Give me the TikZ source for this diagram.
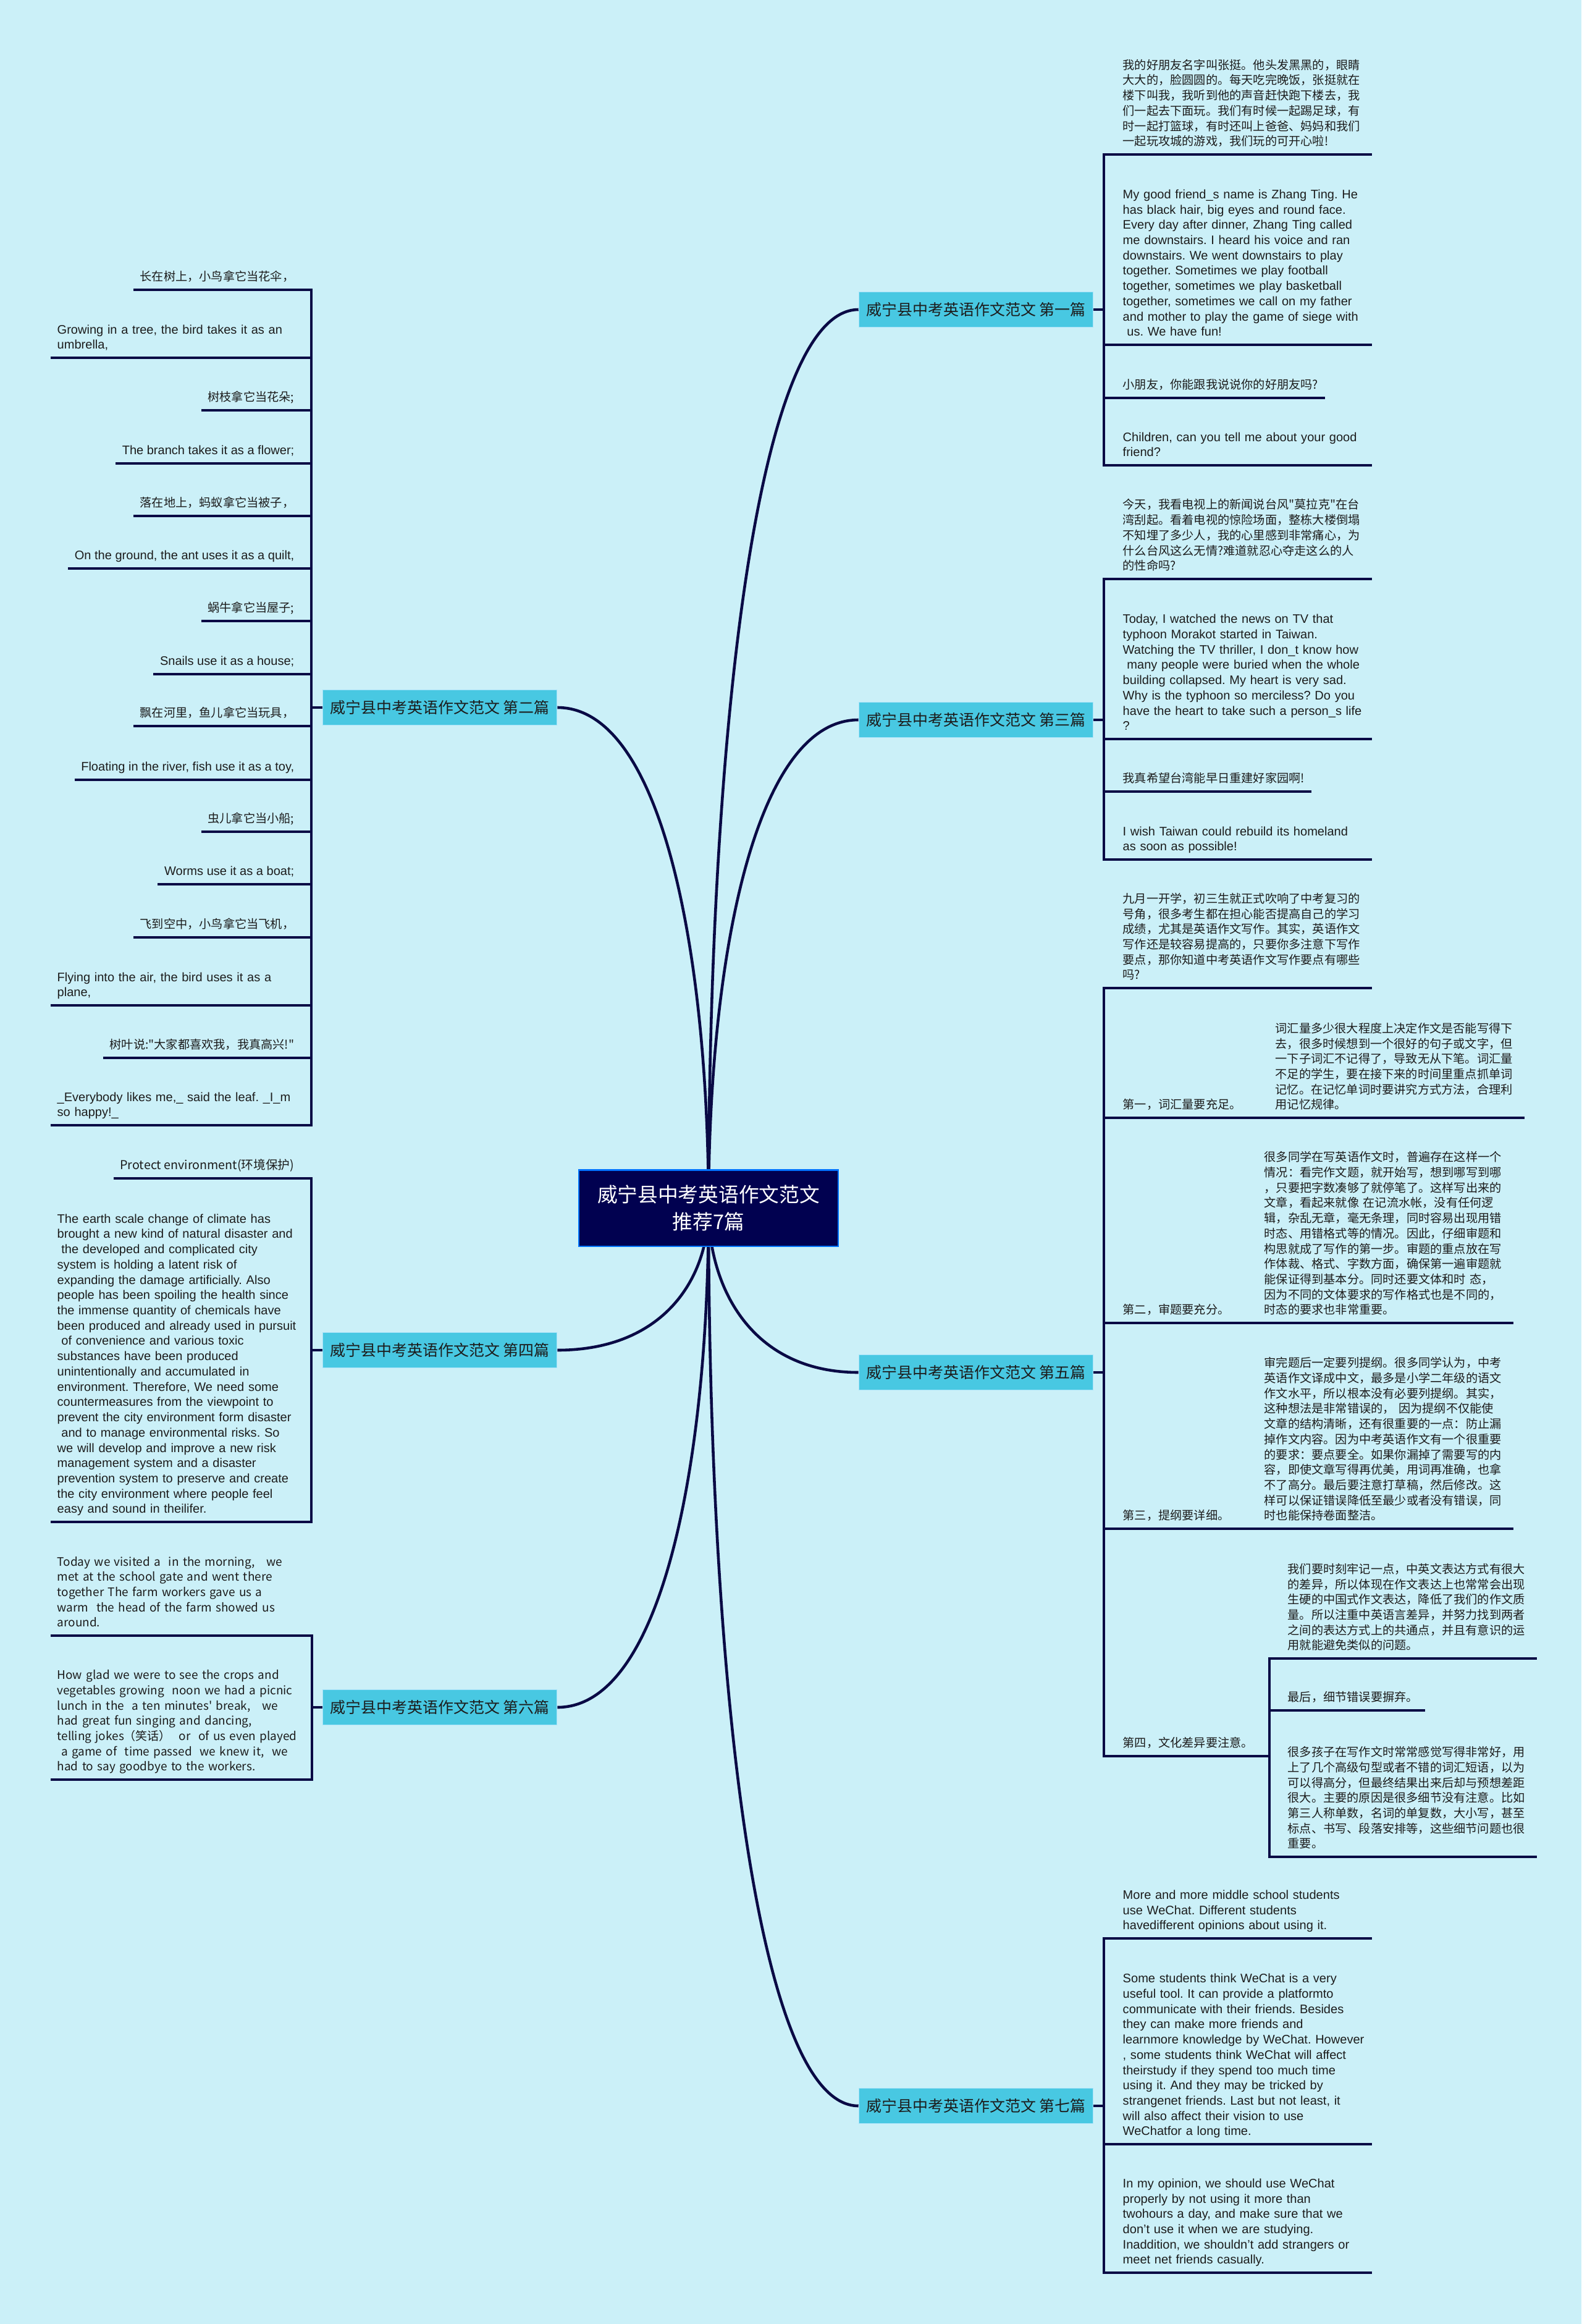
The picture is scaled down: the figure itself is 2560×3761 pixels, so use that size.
\documentclass[tikz,border=0pt]{standalone}
\usepackage{fontspec}
\setmainfont{Liberation Sans}
\newfontfamily\cjk{Noto Sans CJK SC}
\usetikzlibrary{calc}
\frenchspacing
\hyphenpenalty=10000
\definecolor{paper}{HTML}{CBF0F8}
\definecolor{navy}{HTML}{010150}
\definecolor{wire}{HTML}{0A0A45}
\definecolor{ink}{HTML}{1C1C1C}
\definecolor{sky}{HTML}{48C8E2}

\begin{document}
\begin{tikzpicture}[x=0.01cm, y=-0.01cm,
    root/.style={rectangle, draw=blue!55!cyan, line width=0.6pt, fill=navy, text=white, minimum width=4.19cm, minimum height=1.23cm, align=center, font=\cjk\fontsize{9.3}{12.5}\selectfont},
    topic/.style={rectangle, draw=cyan!35, line width=0.4pt, fill=sky, text=ink, minimum width=3.79cm, minimum height=0.57cm, inner sep=0pt, font=\cjk\fontsize{7.1}{8.5}\selectfont},
    cntext/.style={align=left, text=ink, inner xsep=0.1cm, inner ysep=0.06cm, font=\cjk\fontsize{5.46}{7.03}\selectfont, execute at end node=\strut},
    entext/.style={cntext, font=\fontsize{5.7}{7.03}\selectfont},
    mixtext/.style={cntext, font=\cjk\fontsize{5.6}{7.03}\selectfont},
    para/.style={text width=3.92cm},
    link/.style={draw=wire, line width=1.3pt},
    uline/.style={draw=wire, line width=0.9pt}
]
    \fill[paper] (0,0) rectangle (2560,3761);

    \node[topic] (art1) at (1580,501) {威宁县中考英语作文范文 第一篇};
    \node[topic] (art3) at (1580,1165) {威宁县中考英语作文范文 第三篇};
    \node[topic] (art5) at (1580,2221) {威宁县中考英语作文范文 第五篇};
    \node[topic] (art7) at (1580,3408) {威宁县中考英语作文范文 第七篇};
    \node[topic] (art2) at (712,1145) {威宁县中考英语作文范文 第二篇};
    \node[topic] (art4) at (712,2185) {威宁县中考英语作文范文 第四篇};
    \node[topic] (art6) at (712,2763) {威宁县中考英语作文范文 第六篇};

    \coordinate (br1) at (1787,501);
    \node[cntext, para, anchor=south west] (t1a) at (1807,250) {我的好朋友名字叫张挺。他头发黑黑的，眼睛\\大大的，脸圆圆的。每天吃完晚饭，张挺就在\\楼下叫我，我听到他的声音赶快跑下楼去，我\\们一起去下面玩。我们有时候一起踢足球，有\\时一起打篮球，有时还叫上爸爸、妈妈和我们\\一起玩攻城的游戏，我们玩的可开心啦!};
    \node[entext, para, anchor=south west] (t1b) at (1807,558) {My good friend\_s name is Zhang Ting. He\\has black hair, big eyes and round face.\\Every day after dinner, Zhang Ting called\\me downstairs. I heard his voice and ran\\downstairs. We went downstairs to play\\together. Sometimes we play football\\together, sometimes we play basketball\\together, sometimes we call on my father\\and mother to play the game of siege with\\\ us. We have fun!};
    \node[cntext, anchor=south west] (t1c) at (1807,644) {小朋友，你能跟我说说你的好朋友吗?};
    \node[entext, para, anchor=south west] (t1d) at (1807,753) {Children, can you tell me about your good\\friend?};
    \draw[uline] (art1.east) -- (br1);
    \draw[uline] (t1a.south east) -- (t1a.south -| br1) -- (t1d.south -| br1) -- (t1d.south east);
    \foreach \n in {t1b,t1c}
        \draw[uline] (\n.south east) -- (\n.south -| br1);

    \coordinate (br3) at (1787,1165);
    \node[cntext, para, anchor=south west] (t3a) at (1807,937) {今天，我看电视上的新闻说台风"莫拉克"在台\\湾刮起。看着电视的惊险场面，整栋大楼倒塌\\不知埋了多少人，我的心里感到非常痛心，为\\什么台风这么无情?难道就忍心夺走这么的人\\的性命吗?};
    \node[entext, para, anchor=south west] (t3b) at (1807,1196) {Today, I watched the news on TV that\\typhoon Morakot started in Taiwan.\\Watching the TV thriller, I don\_t know how\\\ many people were buried when the whole\\building collapsed. My heart is very sad.\\Why is the typhoon so merciless? Do you\\have the heart to take such a person\_s life\\?};
    \node[cntext, anchor=south west] (t3c) at (1807,1281) {我真希望台湾能早日重建好家园啊!};
    \node[entext, para, anchor=south west] (t3d) at (1807,1391) {I wish Taiwan could rebuild its homeland\\as soon as possible!};
    \draw[uline] (art3.east) -- (br3);
    \draw[uline] (t3a.south east) -- (t3a.south -| br3) -- (t3d.south -| br3) -- (t3d.south east);
    \foreach \n in {t3b,t3c}
        \draw[uline] (\n.south east) -- (\n.south -| br3);

    \coordinate (br5) at (1787,2221);
    \coordinate (br5b) at (2055,2842);
    \node[cntext, para, anchor=south west] (t5a) at (1807,1599) {九月一开学，初三生就正式吹响了中考复习的\\号角，很多考生都在担心能否提高自己的学习\\成绩，尤其是英语作文写作。其实，英语作文\\写作还是较容易提高的，只要你多注意下写作\\要点，那你知道中考英语作文写作要点有哪些\\吗?};
    \node[cntext, anchor=south west] (s1) at (1807,1809) {第一，词汇量要充足。};
    \node[cntext, para, anchor=south west] (c1) at (2054,1809) {词汇量多少很大程度上决定作文是否能写得下\\去，很多时候想到一个很好的句子或文字，但\\一下子词汇不记得了，导致无从下笔。词汇量\\不足的学生，要在接下来的时间里重点抓单词\\记忆。在记忆单词时要讲究方式方法，合理利\\用记忆规律。};
    \node[cntext, anchor=south west] (s2) at (1807,2141) {第二，审题要充分。};
    \node[cntext, para, anchor=south west] (c2) at (2036,2141) {很多同学在写英语作文时，普遍存在这样一个\\情况：看完作文题，就开始写，想到哪写到哪\\，只要把字数凑够了就停笔了。这样写出来的\\文章，看起来就像 在记流水帐，没有任何逻\\辑，杂乱无章，毫无条理，同时容易出现用错\\时态、用错格式等的情况。因此，仔细审题和\\构思就成了写作的第一步。审题的重点放在写\\作体裁、格式、字数方面，确保第一遍审题就\\能保证得到基本分。同时还要文体和时 态，\\因为不同的文体要求的写作格式也是不同的，\\时态的要求也非常重要。};
    \node[cntext, anchor=south west] (s3) at (1807,2474) {第三，提纲要详细。};
    \node[cntext, para, anchor=south west] (c3) at (2036,2474) {审完题后一定要列提纲。很多同学认为，中考\\英语作文译成中文，最多是小学二年级的语文\\作文水平，所以根本没有必要列提纲。其实，\\这种想法是非常错误的， 因为提纲不仅能使\\文章的结构清晰，还有很重要的一点：防止漏\\掉作文内容。因为中考英语作文有一个很重要\\的要求：要点要全。如果你漏掉了需要写的内\\容，即使文章写得再优美，用词再准确，也拿\\不了高分。最后要注意打草稿，然后修改。这\\样可以保证错误降低至最少或者没有错误，同\\时也能保持卷面整洁。};
    \node[cntext, anchor=south west] (s4) at (1807,2842) {第四，文化差异要注意。};
    \node[cntext, para, anchor=south west] (d1) at (2074,2684) {我们要时刻牢记一点，中英文表达方式有很大\\的差异，所以体现在作文表达上也常常会出现\\生硬的中国式作文表达，降低了我们的作文质\\量。所以注重中英语言差异，并努力找到两者\\之间的表达方式上的共通点，并且有意识的运\\用就能避免类似的问题。};
    \node[cntext, anchor=south west] (d2) at (2074,2768) {最后，细节错误要摒弃。};
    \node[cntext, para, anchor=south west] (d3) at (2074,3005) {很多孩子在写作文时常常感觉写得非常好，用\\上了几个高级句型或者不错的词汇短语，以为\\可以得高分，但最终结果出来后却与预想差距\\很大。主要的原因是很多细节没有注意。比如\\第三人称单数，名词的单复数，大小写，甚至\\标点、书写、段落安排等，这些细节问题也很\\重要。};
    \draw[uline] (art5.east) -- (br5);
    \draw[uline] (t5a.south east) -- (t5a.south -| br5) -- (s4.south -| br5) -- (s4.south east) -- (br5b);
    \draw[uline] (s1.south -| br5) -- (s1.south east) -- (c1.south west) -- (c1.south east);
    \draw[uline] (s2.south -| br5) -- (s2.south east) -- (c2.south west) -- (c2.south east);
    \draw[uline] (s3.south -| br5) -- (s3.south east) -- (c3.south west) -- (c3.south east);
    \draw[uline] (d1.south east) -- (d1.south -| br5b) -- (d3.south -| br5b) -- (d3.south east);
    \draw[uline] (d2.south east) -- (d2.south -| br5b);

    \coordinate (br7) at (1787,3408);
    \node[entext, para, anchor=south west] (t7a) at (1807,3137) {More and more middle school students\\use WeChat. Different students\\havedifferent opinions about using it.};
    \node[entext, para, anchor=south west] (t7b) at (1807,3470) {Some students think WeChat is a very\\useful tool. It can provide a platformto\\communicate with their friends. Besides\\they can make more friends and\\learnmore knowledge by WeChat. However\\, some students think WeChat will affect\\theirstudy if they spend too much time\\using it. And they may be tricked by\\strangenet friends. Last but not least, it\\will also affect their vision to use\\WeChatfor a long time.};
    \node[entext, para, anchor=south west] (t7c) at (1807,3678) {In my opinion, we should use WeChat\\properly by not using it more than\\twohours a day, and make sure that we\\don't use it when we are studying.\\Inaddition, we shouldn't add strangers or\\meet net friends casually.};
    \draw[uline] (art7.east) -- (br7);
    \draw[uline] (t7a.south east) -- (t7a.south -| br7) -- (t7c.south -| br7) -- (t7c.south east);
    \draw[uline] (t7b.south east) -- (t7b.south -| br7);

    \coordinate (br2) at (504,1145);
    \node[cntext, anchor=south east] (t2a) at (487,469) {长在树上，小鸟拿它当花伞，};
    \node[entext, para, anchor=south west] (t2b) at (82,579) {Growing in a tree, the bird takes it as an\\umbrella,};
    \node[cntext, anchor=south east] (t2c) at (487,664) {树枝拿它当花朵;};
    \node[entext, anchor=south east] (t2d) at (487,750) {The branch takes it as a flower;};
    \node[cntext, anchor=south east] (t2e) at (487,835) {落在地上，蚂蚁拿它当被子，};
    \node[entext, anchor=south east] (t2f) at (487,920) {On the ground, the ant uses it as a quilt,};
    \node[cntext, anchor=south east] (t2g) at (487,1005) {蜗牛拿它当屋子;};
    \node[entext, anchor=south east] (t2h) at (487,1091) {Snails use it as a house;};
    \node[cntext, anchor=south east] (t2i) at (487,1175) {飘在河里，鱼儿拿它当玩具，};
    \node[entext, anchor=south east] (t2j) at (487,1262) {Floating in the river, fish use it as a toy,};
    \node[cntext, anchor=south east] (t2k) at (487,1346) {虫儿拿它当小船;};
    \node[entext, anchor=south east] (t2l) at (487,1431) {Worms use it as a boat;};
    \node[cntext, anchor=south east] (t2m) at (487,1517) {飞到空中，小鸟拿它当飞机，};
    \node[entext, para, anchor=south west] (t2n) at (82,1627) {Flying into the air, the bird uses it as a\\plane,};
    \node[cntext, anchor=south east] (t2o) at (487,1712) {树叶说:"大家都喜欢我，我真高兴!"};
    \node[entext, para, anchor=south west] (t2p) at (82,1821) {\_Everybody likes me,\_ said the leaf. \_I\_m\\so happy!\_};
    \draw[uline] (art2.west) -- (br2);
    \draw[uline] (t2a.south west) -- (t2a.south -| br2) -- (t2p.south -| br2) -- (t2p.south west);
    \foreach \n in {t2b,t2c,t2d,t2e,t2f,t2g,t2h,t2i,t2j,t2k,t2l,t2m,t2n,t2o}
        \draw[uline] (\n.south west) -- (\n.south -| br2);

    \coordinate (br4) at (504,2185);
    \node[mixtext, anchor=south east] (t4a) at (487,1907) {Protect environment(环境保护)};
    \node[entext, para, anchor=south west] (t4b) at (82,2463) {The earth scale change of climate has\\brought a new kind of natural disaster and\\\ the developed and complicated city\\system is holding a latent risk of\\expanding the damage artificially. Also\\people has been spoiling the health since\\the immense quantity of chemicals have\\been produced and already used in pursuit\\\ of convenience and various toxic\\substances have been produced\\unintentionally and accumulated in\\environment. Therefore, We need some\\countermeasures from the viewpoint to\\prevent the city environment form disaster\\\ and to manage environmental risks. So\\we will develop and improve a new risk\\management system and a disaster\\prevention system to preserve and create\\the city environment where people feel\\easy and sound in theilifer.};
    \draw[uline] (art4.west) -- (br4);
    \draw[uline] (t4a.south west) -- (t4a.south -| br4) -- (t4b.south -| br4) -- (t4b.south west);

    \coordinate (br6) at (505,2763);
    \node[mixtext, text width=4cm, font=\cjk\fontsize{5.4}{7.03}\selectfont, anchor=south west] (t6a) at (82,2647) {Today we visited a\ \ in the morning,\ \ \ we\\met at the school gate and went there\\together The farm workers gave us a\\warm\ \ the head of the farm showed us\\around.};
    \node[mixtext, text width=4cm, font=\cjk\fontsize{5.4}{7.03}\selectfont, anchor=south west] (t6b) at (82,2880) {How glad we were to see the crops and\\vegetables growing\ \ noon we had a picnic\\lunch in the\ \ a ten minutes' break,\ \ \ we\\had great fun singing and dancing,\\telling jokes（笑话）\ \ or\ \ of us even played\\\ a game of\ \ time passed\ \ we knew it,\ \ we\\had to say goodbye to the workers.};
    \draw[uline] (art6.west) -- (br6);
    \draw[uline] (t6a.south west) -- (t6a.south -| br6) -- (t6b.south -| br6) -- (t6b.south west);

    \coordinate (hub) at (1147,1955);
    \foreach \n in {art1,art3,art5,art7}
        \draw[link] (hub) .. controls ($(hub)!0.5!(hub |- \n.west)$) and ($(\n.west)!0.7!(hub |- \n.west)$) .. (\n.west);
    \foreach \n in {art2,art4,art6}
        \draw[link] (hub) .. controls ($(hub)!0.5!(hub |- \n.east)$) and ($(\n.east)!0.7!(hub |- \n.east)$) .. (\n.east);
    \node[root] (root) at (hub) {威宁县中考英语作文范文\\推荐7篇};
\end{tikzpicture}
\end{document}
